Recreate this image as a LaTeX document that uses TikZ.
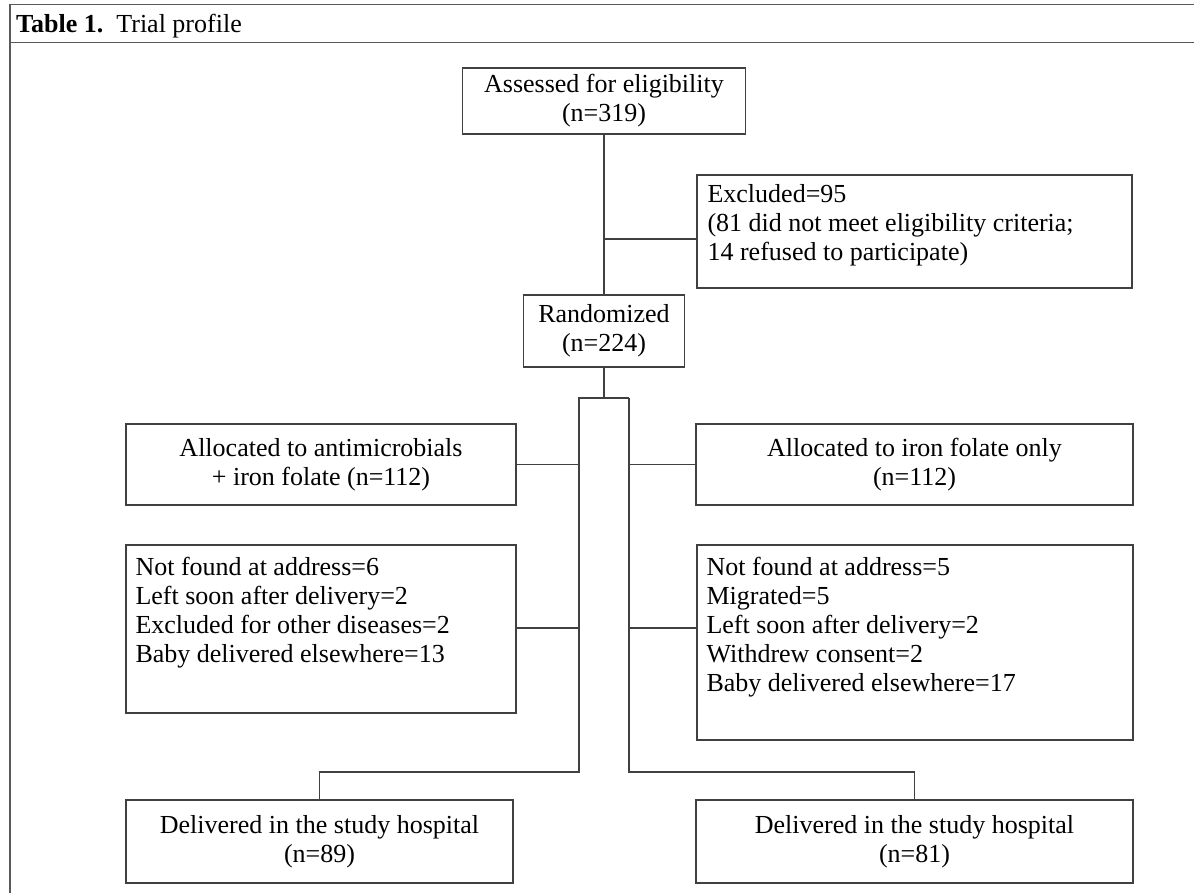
\documentclass[tikz,border=0pt]{standalone}
\usepackage{fontspec}
\setmainfont{Liberation Serif}
\newcommand{\boxfont}{\fontsize{26}{29}\selectfont}
\tikzset{
  flowbox/.style={draw=black!75, line width=1.3pt, align=center, inner sep=0pt, font=\boxfont},
  listtext/.style={align=left, inner sep=0pt, font=\boxfont, anchor=north west},
  link/.style={draw=black!75, line width=1.3pt},
  tablerule/.style={draw=black!65, line width=1.8pt}
}
\begin{document}
\begin{tikzpicture}[x=1pt, y=-1pt]
\useasboundingbox (0,0) rectangle (1194,893);
\draw [tablerule] (10,4.5) -- (1194,4.5);
\draw [tablerule] (10,42.5) -- (1194,42.5);
\draw [tablerule] (10,4.5) -- (10,893);
\node [anchor=base west, inner sep=0pt, font=\boxfont] (title) at (16,33) {\textbf{Table 1.}\enspace Trial profile};

\node [flowbox, minimum width=283, minimum height=66] (assess) at (604,101) {Assessed for eligibility\\(n=319)};
\node [flowbox, minimum width=435, minimum height=113] (excl) at (914.5,231.5) {};
\node [listtext] (excltext) at ([xshift=11, yshift=-10]excl.north west) {Excluded=95\\(81 did not meet eligibility criteria;\\14 refused to participate)};
\node [flowbox, minimum width=161, minimum height=72] (rand) at (604,331) {Randomized\\(n=224)};

\node [flowbox, minimum width=390, minimum height=81] (allocL) at (321,464.5) {Allocated to antimicrobials\\+ iron folate (n=112)};
\node [flowbox, minimum width=437, minimum height=81] (allocR) at (914.5,464.5) {Allocated to iron folate only\\(n=112)};

\node [flowbox, minimum width=390, minimum height=168] (lossL) at (321,629) {};
\node [listtext] (lossLtext) at ([xshift=10, yshift=-13]lossL.north west) {Not found at address=6\\Left soon after delivery=2\\Excluded for other diseases=2\\Baby delivered elsewhere=13};
\node [flowbox, minimum width=436, minimum height=195] (lossR) at (915,642.5) {};
\node [listtext] (lossRtext) at ([xshift=10, yshift=-13]lossR.north west) {Not found at address=5\\Migrated=5\\Left soon after delivery=2\\Withdrew consent=2\\Baby delivered elsewhere=17};

\node [flowbox, minimum width=387, minimum height=83] (doneL) at (319.5,841.5) {Delivered in the study hospital\\(n=89)};
\node [flowbox, minimum width=437, minimum height=83] (doneR) at (914.5,841.5) {Delivered in the study hospital\\(n=81)};

\coordinate (exclfork) at (604,239);
\coordinate (split) at (604,398);
\coordinate (splitL) at (579,398);
\coordinate (splitR) at (629,398);
\draw [link] (assess) -- (rand);
\draw [link] (exclfork) -- (exclfork -| excl.west);
\draw [link] (rand) -- (split);
\draw [link] (splitR) -- (splitL) -- (splitL |- 0,772) -| (doneL.north);
\draw [link] (splitR) -- (splitR |- 0,772) -| (doneR.north);
\draw [link] (allocL.east) -- (allocL.east -| splitL);
\draw [link] (splitR |- allocR.west) -- (allocR.west);
\draw [link] (lossL.east |- 0,628) -- (splitL |- 0,628);
\draw [link] (splitR |- 0,628) -- (lossR.west |- 0,628);
\end{tikzpicture}
\end{document}
